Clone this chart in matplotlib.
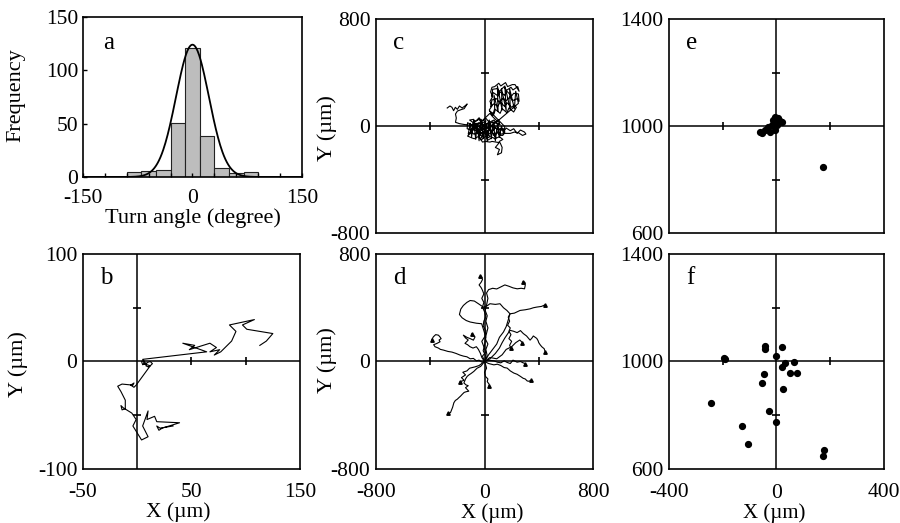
import numpy as np
import matplotlib.pyplot as plt

plt.rcParams['font.family'] = ['Liberation Serif', 'DejaVu Serif']
plt.rcParams['font.size'] = 15.5
plt.rcParams['axes.unicode_minus'] = False

# a: turn angle histogram + gaussian fit
angle_centers = [-80, -60, -40, -20, 0, 20, 40, 60, 80]
angle_counts = [5, 6, 7, 51, 121, 38, 8, 4, 5]
fit_amp, fit_mu, fit_sigma = 124, 0, 22.5

# b: single cell track (um)
b_track = [(33, -60), (21, -62), (18, -60), (20, -64), (23, -62), (39, -57), (18, -56), (16, -51),
           (9, -54), (10, -46), (5, -60), (10, -70), (4, -73), (-4, -60), (-1, -54), (-5, -48),
           (-13, -43), (-15, -41), (-14, -45), (-11, -44), (-11, -36), (-15, -28), (-18, -23),
           (-14, -21), (-4, -22), (-3, -20), (-6, -22), (-3, -24), (-1, -22), (12, -4), (14, -2),
           (12, 0), (9, -1), (8, -4), (10, -5), (12, -4), (6, -2), (6, 1), (4, 0), (5, -3),
           (8, -2), (5, 2), (64, 9), (42, 17), (53, 15), (48, 11), (67, 17), (73, 13), (67, 9),
           (76, 11), (71, 6), (77, 9), (87, 19), (91, 28), (85, 34), (108, 39), (97, 34),
           (101, 30), (125, 26), (119, 19), (113, 15)]

# c: long track of one cell (left branch, central mass, upper mass, arms)
c_track = [(-275, 135), (-255, 150), (-240, 140), (-228, 115), (-215, 140), (-200, 125), (-185, 150),
           (-165, 135), (-145, 150), (-128, 165), (-150, 130), (-175, 122), (-200, 112), (-214, 90),
           (-208, 60), (-214, 28), (-185, 18), (-152, 12), (-120, 8), (-90, 4), (-55, 6),
           (-110, 45), (-80, 50), (-70, 30), (-40, 62), (-20, 35), (10, 58), (35, 28), (70, 45), (85, 20),
           (115, 10), (80, 30), (55, 0), (30, 30), (5, -5), (-20, 25), (-45, -5), (-60, 20), (-95, 10),
           (-125, 25), (-128, -20), (-100, -30), (-85, -5), (-50, -35), (-35, -5), (0, -30),
           (15, -10), (50, -40), (65, -5), (100, -30), (115, -20), (150, -30), (160, -15),
           (190, -35), (215, -20), (240, -55), (265, -30), (295, -45), (305, -60), (280, -70),
           (250, -50), (220, -45), (190, -55),
           (155, -55), (120, -60), (105, -40), (70, -70), (55, -40), (20, -70), (5, -40), (-30, -60),
           (-45, -50), (-80, -60), (-95, -45), (-125, -75), (-90, -90), (-75, -95), (-40, -75),
           (-25, -105), (10, -75), (25, -105), (60, -85), (75, -95), (110, -80), (135, -100),
           (110, -115), (100, -135), (80, -160), (110, -175), (95, -215), (125, -200), (130, -160),
           (115, -125), (85, -120), (55, -115), (40, -120), (5, -115), (-15, -120),
           (-30, -95), (-10, -70), (-35, -40), (-60, -15), (-90, 10), (-70, 35), (-40, 50), (-20, 20),
           (10, 40), (0, -10), (-25, -30), (5, -50), (20, -90), (40, -80), (15, -40), (45, -20),
           (30, 15), (60, 30), (80, -10), (55, -45), (75, -75), (90, -40), (110, -70), (135, -70),
           (150, -45), (140, -20), (115, -35), (95, -5), (110, 25), (85, 45), (60, 70), (40, 95),
           (-120, -60), (-105, 20), (-95, -80), (-80, 40), (-65, -100), (-55, 15), (-40, -110),
           (-25, 50), (-10, -90), (5, 35), (20, -115), (35, 45), (50, -95), (65, 30), (80, -110),
           (95, 15), (110, -85), (125, 0), (140, -55), (150, -5),
           (40, 110), (70, 90), (80, 125), (115, 95), (130, 130), (165, 100), (180, 135), (215, 105),
           (235, 140), (215, 155), (200, 140), (165, 175), (150, 145), (115, 180), (100, 150),
           (65, 165), (45, 145), (55, 195), (90, 205), (105, 180), (140, 210), (155, 185), (190, 220),
           (205, 190), (245, 205), (255, 185), (250, 240), (215, 245), (200, 225), (165, 260),
           (150, 230), (115, 255), (100, 225), (65, 250), (55, 220), (60, 275), (95, 280), (110, 260),
           (145, 295), (160, 265), (195, 290), (210, 270), (245, 295), (255, 260), (225, 310),
           (205, 310), (170, 295), (155, 325), (120, 300), (105, 320), (75, 295), (55, 290),
           (45, 255), (60, 220), (40, 185), (55, 150), (35, 120), (60, 80),
           (75, 130), (70, 230), (100, 110), (95, 300), (130, 120), (125, 280), (160, 115),
           (150, 300), (190, 125), (185, 280), (220, 130), (230, 260), (250, 170), (100, 40), (65, 15),
           (35, -15), (0, 5), (-30, -20), (-50, -55), (-20, -75), (10, -25), (-15, 10), (-45, 25),
           (-80, -5), (-100, -25), (-60, -35), (-20, -50), (20, -60), (50, -5), (20, 20), (-10, 0)]

# d: tracks of many cells, all from the origin
d_tracks = [
    [(0, 0), (-15, 40), (10, 70), (-5, 110), (-20, 150), (5, 190), (10, 230), (-10, 265), (-5, 300),
     (10, 335), (0, 370), (-15, 405), (-5, 440), (-20, 470), (-5, 503), (-15, 530), (-25, 550),
     (-40, 570), (-25, 590), (-15, 610), (-21, 630), (-30, 640)],
    [(0, 0), (20, 40), (10, 90), (25, 130), (5, 170), (15, 210), (25, 250), (10, 300), (20, 340),
     (5, 380), (15, 420), (25, 470), (15, 510), (30, 535), (60, 545), (90, 540), (120, 555),
     (150, 570), (180, 560), (210, 548), (241, 541), (270, 545), (295, 541), (300, 565),
     (298, 589), (285, 595)],
    [(0, 0), (10, 40), (-10, 80), (0, 120), (10, 180), (-5, 230), (-21, 281), (-60, 285),
     (-106, 294), (-135, 305), (-165, 325), (-185, 350), (-175, 390), (-156, 417), (-130, 440),
     (-106, 454), (-75, 450), (-45, 430), (-9, 405), (20, 415), (40, 430), (80, 425), (114, 430),
     (140, 400), (165, 380), (188, 355), (175, 330), (185, 300), (170, 270), (190, 250),
     (180, 225), (195, 200), (180, 170), (200, 150), (185, 120), (195, 100)],
    [(0, 0), (30, 50), (60, 90), (90, 130), (110, 180), (140, 220), (160, 260), (175, 310),
     (188, 355), (220, 360), (262, 380), (300, 385), (336, 392), (360, 400), (385, 405),
     (420, 410), (447, 422)],
    [(0, 0), (40, 20), (80, 60), (110, 100), (130, 140), (150, 175), (188, 232), (215, 225),
     (240, 215), (265, 230), (286, 208), (310, 190), (336, 159), (350, 175), (360, 190),
     (385, 172), (395, 155), (400, 140), (410, 125), (422, 110), (440, 95), (447, 73)],
    [(0, 0), (-20, -5), (-40, 10), (-60, 5), (-82, 23), (-105, 20), (-130, 35), (-155, 40),
     (-181, 48), (-210, 60), (-240, 70), (-270, 75), (-303, 85), (-325, 90), (-340, 100),
     (-365, 110), (-375, 125), (-350, 135), (-328, 147), (-335, 160), (-320, 170), (-330, 185),
     (-340, 196), (-360, 200), (-377, 184), (-385, 170), (-390, 160)],
    [(0, 0), (-20, 30), (-30, 60), (-45, 90), (-60, 110), (-85, 100), (-107, 110), (-125, 125),
     (-144, 135), (-120, 160), (-140, 175), (-156, 196), (-130, 180), (-105, 170), (-82, 159),
     (-70, 183), (-95, 205)],
    [(0, 0), (-15, -20), (-29, -37), (-55, -50), (-79, -74), (-100, -90), (-115, -100),
     (-128, -111), (-140, -130), (-152, -160), (-135, -175), (-120, -180), (-140, -195),
     (-116, -221), (-135, -225), (-150, -230), (-165, -245), (-177, -258), (-190, -270),
     (-200, -280), (-215, -290), (-226, -307), (-235, -340), (-251, -381), (-270, -385)],
    [(0, 0), (-40, -30), (-70, -40), (-110, -50), (-130, -70), (-160, -80), (-140, -100),
     (-170, -120), (-150, -140), (-180, -150)],
    [(0, 0), (30, -15), (69, -25), (95, -20), (120, -30), (145, -45), (167, -49), (190, -70),
     (216, -86), (240, -95), (265, -111), (285, -125), (300, -130), (315, -145), (327, -147),
     (345, -140)],
    [(0, 0), (10, -30), (15, -50), (0, -80), (7, -111), (25, -130), (20, -150), (35, -170), (32, -184)],
    [(0, 0), (30, 10), (69, 5), (95, -5), (120, -10), (145, 5), (167, -7), (190, -15), (210, 10),
     (240, -5), (265, 0), (285, -10), (300, -15)],
    [(0, 0), (40, 30), (90, 20), (130, 50), (160, 90), (200, 110), (230, 140), (260, 160), (280, 140)],
]

# e, f: final positions (um)
e_x = [-55, -43, -30, -18, -12, -6, 7, 19, 1, -6, -24, -61, 12, 174]
e_y = [973, 985, 997, 1004, 1022, 1035, 1029, 1016, 1004, 985, 979, 979, 1020, 847]
f_x = [-43, -43, 19, -2, -191, -196, 66, 32, 19, 50, 75, -46, -55, 23, -243, -28, -2, -129, -105, 177, 174]
f_y = [1058, 1045, 1053, 1021, 1008, 1012, 997, 993, 978, 958, 958, 953, 921, 896, 847, 816, 775, 759, 692, 672, 649]

fig = plt.figure(figsize=(9, 5.23), dpi=100)
ax_a = fig.add_axes([0.0922, 0.6616, 0.2433, 0.306])
ax_b = fig.add_axes([0.0922, 0.1033, 0.2411, 0.411])
ax_c = fig.add_axes([0.4178, 0.5545, 0.2411, 0.409])
ax_d = fig.add_axes([0.4178, 0.1033, 0.2411, 0.411])
ax_e = fig.add_axes([0.7433, 0.5545, 0.2389, 0.409])
ax_f = fig.add_axes([0.7433, 0.1033, 0.2389, 0.411])

for ax in [ax_a, ax_b, ax_c, ax_d, ax_e, ax_f]:
    for s in ax.spines.values():
        s.set_linewidth(1.2)

# panel a
ax_a.bar(angle_centers, angle_counts, width=20, color='#bdbdbd', edgecolor='#222222', lw=0.8)
xs = np.linspace(-150, 150, 301)
ax_a.plot(xs, fit_amp * np.exp(-(xs - fit_mu) ** 2 / (2 * fit_sigma ** 2)), 'k', lw=1.3)
ax_a.set_xlim(-150, 150)
ax_a.set_ylim(0, 150)
ax_a.set_xticks([-150, 0, 150])
ax_a.set_xticks(np.arange(-120, 150, 30), minor=True)
ax_a.set_yticks([0, 50, 100, 150])
ax_a.tick_params(direction='in', length=3, width=1)
ax_a.tick_params(axis='x', pad=9)
ax_a.tick_params(which='minor', direction='in', length=3, width=1)
ax_a.set_xlabel('Turn angle (degree)', fontsize=16, labelpad=0)
ax_a.set_ylabel('Frequency', fontsize=16)
ax_a.yaxis.set_label_coords(-0.265, 0.51)
ax_a.text(0.09, 0.84, 'a', transform=ax_a.transAxes, fontsize=18, va='center')


def cross_panel(ax, xlim, ylim, x0, y0, xmarks, ymarks):
    ax.set_xlim(xlim)
    ax.set_ylim(ylim)
    ax.axhline(y0, color='k', lw=1.1)
    ax.axvline(x0, color='k', lw=1.1)
    ax.plot(xmarks, [y0] * len(xmarks), 'k|', ms=6, mew=1.2)
    ax.plot([x0] * len(ymarks), ymarks, 'k_', ms=6, mew=1.2)
    ax.set_yticks([ylim[0], y0, ylim[1]])
    ax.tick_params(length=0, pad=4)
    ax.tick_params(axis='x', pad=10)


def x_label(ax, xc, yc, size=15.5):
    ax.set_xlabel('X (µm)', fontsize=size)
    ax.xaxis.label.set_verticalalignment('center')
    ax.xaxis.set_label_coords(xc, yc)


# panel b
cross_panel(ax_b, (-50, 150), (-100, 100), 0, 0, [50, 100], [50, -50])
bx, by = zip(*b_track)
ax_b.plot(bx, by, 'k', lw=0.8)
ax_b.set_xticks([-50, 50, 150])
x_label(ax_b, 0.44, -0.2)
ax_b.set_ylabel('Y (µm)', fontsize=16)
ax_b.yaxis.set_label_coords(-0.253, 0.49)
ax_b.text(0.08, 0.94, 'b', transform=ax_b.transAxes, fontsize=18, va='top')

# panel c
cross_panel(ax_c, (-800, 800), (-800, 800), 0, 0, [-400, 400], [-400, 400])
cx, cy = zip(*c_track)
ax_c.plot(cx, cy, 'k', lw=0.8)
ax_c.set_xticks([])
ax_c.set_ylabel('Y (µm)', fontsize=16)
ax_c.yaxis.set_label_coords(-0.18, 0.49)
ax_c.text(0.08, 0.94, 'c', transform=ax_c.transAxes, fontsize=18, va='top')

# panel d
cross_panel(ax_d, (-800, 800), (-800, 800), 0, 0, [-400, 400], [-400, 400])
for tr in d_tracks:
    tx, ty = zip(*tr)
    ax_d.plot(tx, ty, 'k', lw=0.8)
    ax_d.plot(tx[-1], ty[-1], 'k^', ms=2.5)
ax_d.set_xticks([-800, 800])
ax_d.text(0, -0.068, '0', transform=ax_d.get_xaxis_transform(), ha='center', va='top')
x_label(ax_d, 0.535, -0.205, 15)
ax_d.set_ylabel('Y (µm)', fontsize=16)
ax_d.yaxis.set_label_coords(-0.18, 0.508)
ax_d.text(0.08, 0.94, 'd', transform=ax_d.transAxes, fontsize=18, va='top')

# panel e
cross_panel(ax_e, (-400, 400), (600, 1400), 0, 1000, [-200, 200], [800, 1200])
ax_e.plot(e_x, e_y, 'ko', ms=4.2)
ax_e.set_xticks([])
ax_e.text(0.08, 0.94, 'e', transform=ax_e.transAxes, fontsize=18, va='top')

# panel f
cross_panel(ax_f, (-400, 400), (600, 1400), 0, 1000, [-200, 200], [800, 1200])
ax_f.plot(f_x, f_y, 'ko', ms=4.2)
ax_f.set_xticks([-400, 400])
ax_f.text(0, -0.068, '0', transform=ax_f.get_xaxis_transform(), ha='center', va='top')
x_label(ax_f, 0.49, -0.205, 15)
ax_f.text(0.08, 0.94, 'f', transform=ax_f.transAxes, fontsize=18, va='top')

fig.savefig('out.png', dpi=100)
